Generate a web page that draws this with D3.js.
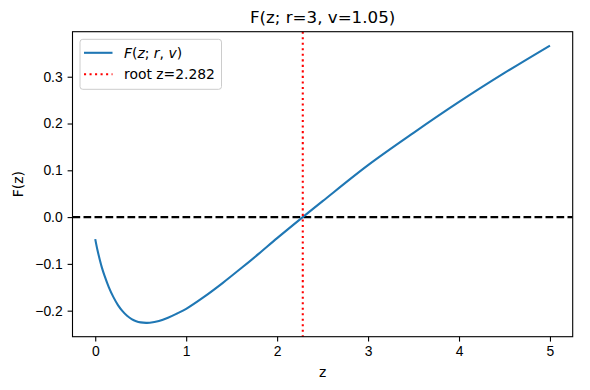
<!DOCTYPE html>
<html>
<head>
<meta charset="utf-8">
<script src="https://cdn.jsdelivr.net/npm/d3@7"></script>
<style>
  body { margin: 0; background: #fff; }
  svg { font-family: "DejaVu Sans", sans-serif; }
  .axis text { font-size: 13.9px; fill: #000; }
  .axis line { stroke: #000; stroke-width: 1.1px; }
  .axis path { display: none; }
</style>
</head>
<body>
<script>
// values
var zVals = [0, 0.025, 0.05, 0.075, 0.1, 0.15, 0.2, 0.25, 0.3, 0.35, 0.4, 0.45, 0.5, 0.56, 0.6, 0.7, 0.8, 0.9, 1.0,
             1.2, 1.4, 1.6, 1.8, 2.0, 2.282, 2.5, 3.0, 3.5, 4.0, 4.5, 5.0];
var fVals = [-0.047, -0.071, -0.091, -0.109, -0.124, -0.150, -0.171, -0.188, -0.201, -0.211, -0.218, -0.2225, -0.225, -0.226, -0.2257, -0.222, -0.215, -0.206, -0.196,
             -0.170, -0.141, -0.110, -0.078, -0.045, 0.0, 0.034, 0.111, 0.180, 0.246, 0.308, 0.3666];
var rootZ = 2.282;
var xTicks = [0, 1, 2, 3, 4, 5];
var yTicks = [-0.2, -0.1, 0.0, 0.1, 0.2, 0.3];

var W = 590, H = 390;
var margin = {left: 72.5, right: 17.3, top: 31.7, bottom: 53.3},
    width = W - margin.left - margin.right,
    height = H - margin.top - margin.bottom;

var data = zVals.map(function(z, i) { return {z: z, f: fVals[i]}; });

var svg = d3.select("body").append("svg")
    .attr("width", W)
    .attr("height", H);

var g = svg.append("g")
    .attr("transform", "translate(" + margin.left + "," + margin.top + ")");

// 5% padding like matplotlib
var xMin = d3.min(zVals), xMax = d3.max(zVals), xPad = 0.05 * (xMax - xMin);
var yMin = d3.min(fVals), yMax = d3.max(fVals), yPad = 0.05 * (yMax - yMin);

var xScale = d3.scaleLinear().domain([xMin - xPad, xMax + xPad]).range([0, width]);
var yScale = d3.scaleLinear().domain([yMin - yPad, yMax + yPad]).range([height, 0]);

var fmtY = function(d) { return d3.format(".1f")(d).replace("-", "\u2212"); };

g.append("defs").append("clipPath").attr("id", "clip")
  .append("rect").attr("width", width).attr("height", height);

// zero line
g.append("line")
    .attr("clip-path", "url(#clip)")
    .attr("x1", 0).attr("x2", width)
    .attr("y1", yScale(0)).attr("y2", yScale(0))
    .attr("stroke", "#000")
    .attr("stroke-width", 2.08)
    .attr("stroke-dasharray", "7.7,3.3");

// curve
var line = d3.line()
    .x(function(d) { return xScale(d.z); })
    .y(function(d) { return yScale(d.f); })
    .curve(d3.curveCatmullRom.alpha(0.5));

g.append("path")
    .datum(data)
    .attr("d", line)
    .attr("fill", "none")
    .attr("stroke", "#1f77b4")
    .attr("stroke-width", 2.08);

// root line
g.append("line")
    .attr("x1", xScale(rootZ)).attr("x2", xScale(rootZ))
    .attr("y1", 0).attr("y2", height)
    .attr("stroke", "red")
    .attr("stroke-width", 2.08)
    .attr("stroke-dasharray", "2.08,3.44");

// axes
g.append("g")
    .attr("class", "axis")
    .attr("transform", "translate(0," + height + ")")
    .call(d3.axisBottom(xScale).tickValues(xTicks).tickSize(4.9).tickPadding(4.9).tickFormat(d3.format("d")));

g.append("g")
    .attr("class", "axis")
    .call(d3.axisLeft(yScale).tickValues(yTicks).tickSize(4.9).tickPadding(4.9).tickFormat(fmtY));

// frame
g.append("rect")
    .attr("width", width).attr("height", height)
    .attr("fill", "none")
    .attr("stroke", "#000")
    .attr("stroke-width", 1.1);

// labels
svg.append("text")
    .attr("x", margin.left + width / 2)
    .attr("y", 23.4)
    .attr("text-anchor", "middle")
    .attr("font-size", "16.7px")
    .text("F(z; r=3, v=1.05)");

svg.append("text")
    .attr("x", margin.left + width / 2)
    .attr("y", 377)
    .attr("text-anchor", "middle")
    .attr("font-size", "13.9px")
    .text("z");

svg.append("text")
    .attr("transform", "translate(23," + (margin.top + height / 2) + ") rotate(-90)")
    .attr("text-anchor", "middle")
    .attr("font-size", "13.9px")
    .text("F(z)");

// legend
var lg = g.append("g").attr("transform", "translate(7.5,7.6)");
lg.append("rect")
    .attr("width", 141.5).attr("height", 50)
    .attr("rx", 2.8)
    .attr("fill", "#fff").attr("fill-opacity", 0.8)
    .attr("stroke", "#cccccc").attr("stroke-width", 1);

lg.append("line")
    .attr("x1", 4).attr("x2", 32.5)
    .attr("y1", 13.5).attr("y2", 13.5)
    .attr("stroke", "#1f77b4").attr("stroke-width", 2.08);

lg.append("line")
    .attr("x1", 4).attr("x2", 32.5)
    .attr("y1", 35).attr("y2", 35)
    .attr("stroke", "red").attr("stroke-width", 2.08)
    .attr("stroke-dasharray", "2.08,3.44");

var t1 = lg.append("text").attr("x", 44).attr("y", 18.5).attr("font-size", "13.9px");
t1.append("tspan").attr("font-style", "italic").text("F");
t1.append("tspan").text("(");
t1.append("tspan").attr("font-style", "italic").text("z");
t1.append("tspan").text("; ");
t1.append("tspan").attr("font-style", "italic").text("r");
t1.append("tspan").text(", ");
t1.append("tspan").attr("font-style", "italic").text("v");
t1.append("tspan").text(")");

lg.append("text").attr("x", 44).attr("y", 40)
    .attr("font-size", "13.9px")
    .text("root z=2.282");
</script>
</body>
</html>
